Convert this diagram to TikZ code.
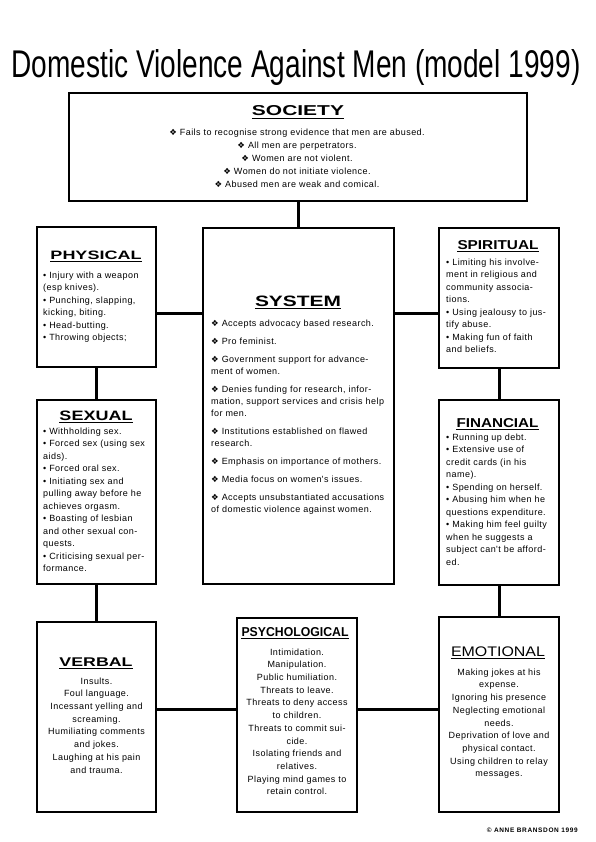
\documentclass[tikz,border=0pt]{standalone}
\usepackage{fontspec}
\setmainfont{Liberation Sans}
\newfontfamily\bodyf[LetterSpace=5]{Liberation Sans}
\newfontfamily\symf{DejaVu Sans}
\newfontfamily\copyf[LetterSpace=10]{Liberation Sans}
\newcommand\dm{{\symf\fontsize{8.5}{12}\selectfont ❖}\ }
\newcommand\hd[3]{\resizebox{#1pt}{#2pt}{\bfseries #3}}
\newcommand\hdr[3]{\resizebox{#1pt}{#2pt}{#3}}
\newcommand\bl{•\ }
\tikzset{
  smallbox/.style={draw, line width=1.3pt, inner sep=0pt, outer sep=0pt, anchor=north west},
  bigbox/.style={draw, line width=2.8pt, inner sep=0pt, outer sep=0pt, anchor=north west},
  link/.style={line width=3pt},
  head/.style={anchor=base, inner sep=0pt},
  uline/.style={line width=1.2pt},
  bodyl/.style={anchor=north west, inner sep=0pt, align=left, font=\bodyf\fontsize{9}{12.5}\selectfont},
  bodyc/.style={anchor=north, inner sep=0pt, align=center, font=\bodyf\fontsize{9}{12.7}\selectfont},
}
\begin{document}
\begin{tikzpicture}[x=1pt,y=-1pt]
\useasboundingbox (0,0) rectangle (595,842);

% title
\node[head] (title) at (296,77.4) {\resizebox{569pt}{28pt}{Domestic Violence Against Men (model 1999)}};

% boxes
\node[bigbox, minimum width=458pt, minimum height=108pt] (society) at (69,93) {};
\node[bigbox, minimum width=191pt, minimum height=356pt] (system) at (203,228) {};
\node[smallbox, minimum width=119pt, minimum height=140pt] (physical) at (37,227) {};
\node[smallbox, minimum width=120pt, minimum height=140pt] (spiritual) at (439,228) {};
\node[smallbox, minimum width=119pt, minimum height=184pt] (sexual) at (37,400) {};
\node[smallbox, minimum width=120pt, minimum height=185pt] (financial) at (439,400) {};
\node[smallbox, minimum width=119pt, minimum height=190pt] (verbal) at (37,622) {};
\node[smallbox, minimum width=120pt, minimum height=194pt] (psych) at (237,618) {};
\node[smallbox, minimum width=120pt, minimum height=195pt] (emotional) at (439,617) {};

% connectors
\coordinate (rowA) at (0,313);
\coordinate (rowB) at (0,709);
\draw[link] (society.south) -- (society.south |- system.north);
\draw[link] (physical.east |- rowA) -- (system.west |- rowA);
\draw[link] (system.east |- rowA) -- (spiritual.west |- rowA);
\draw[link] (physical.south) -- (sexual.north);
\draw[link] (spiritual.south) -- (financial.north);
\draw[link] (sexual.south) -- (verbal.north);
\draw[link] (financial.south) -- (emotional.north);
\draw[link] (verbal.east |- rowB) -- (psych.west |- rowB);
\draw[link] (psych.east |- rowB) -- (emotional.west |- rowB);

% headings
\node[head] (hsoc) at (298,116) {\hd{92}{10}{SOCIETY}};
\node[head] (hsys) at (298,306) {\hd{86}{10.5}{SYSTEM}};
\node[head] (hphy) at (96,259) {\hd{91}{8.5}{PHYSICAL}};
\node[head] (hspi) at (498,249) {\hd{81}{9}{SPIRITUAL}};
\node[head] (hsex) at (96,420) {\hd{73}{9.5}{SEXUAL}};
\node[head] (hfin) at (497.5,427) {\hd{82}{9}{FINANCIAL}};
\node[head] (hver) at (96,666) {\hd{73}{8.7}{VERBAL}};
\node[head] (hpsy) at (295,636) {\hd{107}{9}{PSYCHOLOGICAL}};
\node[head] (hemo) at (498,656) {\hdr{94}{9.7}{EMOTIONAL}};
\foreach \h in {hsoc,hsys,hphy,hspi,hsex,hfin,hver,hpsy,hemo}{
  \draw[uline] ([yshift=-2.2pt]\h.base west) -- ([yshift=-2.2pt]\h.base east);
}

% texts
\node[anchor=north, inner sep=0pt, align=center, font=\bodyf\fontsize{9}{13}\selectfont] (tsoc) at (297,125.9)
 {\strut\dm Fails to recognise strong evidence that men are abused.\\
  \dm All men are perpetrators.\\
  \dm Women are not violent.\\
  \dm Women do not initiate violence.\\
  \dm Abused men are weak and comical.};

\node[anchor=north west, inner sep=0pt, align=left, font=\bodyf\fontsize{9}{12}\selectfont] (tsys) at (211,317.6)
 {\strut\dm Accepts advocacy based research.\\[6pt]
  \dm Pro feminist.\\[6pt]
  \dm Government support for advance-\\
  ment of women.\\[6pt]
  \dm Denies funding for research, infor-\\
  mation, support services and crisis help\\
  for men.\\[6pt]
  \dm Institutions established on flawed\\
  research.\\[6pt]
  \dm Emphasis on importance of mothers.\\[6pt]
  \dm Media focus on women's issues.\\[6pt]
  \dm Accepts unsubstantiated accusations\\
  of domestic violence against women.};

\node[bodyl] (tphy) at (43,269.25)
 {\strut\bl Injury with a weapon\\
  (esp knives).\\
  \bl Punching, slapping,\\
  kicking, biting.\\
  \bl Head-butting.\\
  \bl Throwing objects;};

\node[bodyl] (tspi) at (446,256.25)
 {\strut\bl Limiting his involve-\\
  ment in  religious and\\
  community associa-\\
  tions.\\
  \bl Using jealousy to jus-\\
  tify abuse.\\
  \bl Making fun of faith\\
  and beliefs.};

\node[bodyl] (tsex) at (43,425.25)
 {\strut\bl Withholding sex.\\
  \bl Forced sex (using sex\\
  aids).\\
  \bl Forced oral sex.\\
  \bl Initiating sex and\\
  pulling away before he\\
  achieves orgasm.\\
  \bl Boasting of lesbian\\
  and other sexual con-\\
  quests.\\
  \bl Criticising sexual per-\\
  formance.};

\node[bodyl] (tfin) at (446,431.25)
 {\strut\bl Running up debt.\\
  \bl Extensive use of\\
  credit cards (in his\\
  name).\\
  \bl Spending on herself.\\
  \bl Abusing him when he\\
  questions expenditure.\\
  \bl Making him feel guilty\\
  when he suggests a\\
  subject can't be afford-\\
  ed.};

\node[bodyc] (tver) at (96.5,675.1)
 {\strut Insults.\\
  Foul language.\\
  Incessant yelling and\\
  screaming.\\
  Humiliating comments\\
  and jokes.\\
  Laughing at his pain\\
  and trauma.};

\node[bodyc] (tpsy) at (297,646.1)
 {\strut Intimidation.\\
  Manipulation.\\
  Public humiliation.\\
  Threats to leave.\\
  Threats to deny access\\
  to children.\\
  Threats to commit sui-\\
  cide.\\
  Isolating friends and\\
  relatives.\\
  Playing mind games to\\
  retain control.};

\node[bodyc] (temo) at (499,666.2)
 {\strut Making jokes at his\\
  expense.\\
  Ignoring his presence\\
  Neglecting emotional\\
  needs.\\
  Deprivation of love and\\
  physical contact.\\
  Using children to relay\\
  messages.};

% copyright
\node[anchor=base east, inner sep=0pt] (copy) at (578,832) {\copyf\bfseries\fontsize{6.5}{8}\selectfont © ANNE BRANSDON 1999};
\end{tikzpicture}
\end{document}
